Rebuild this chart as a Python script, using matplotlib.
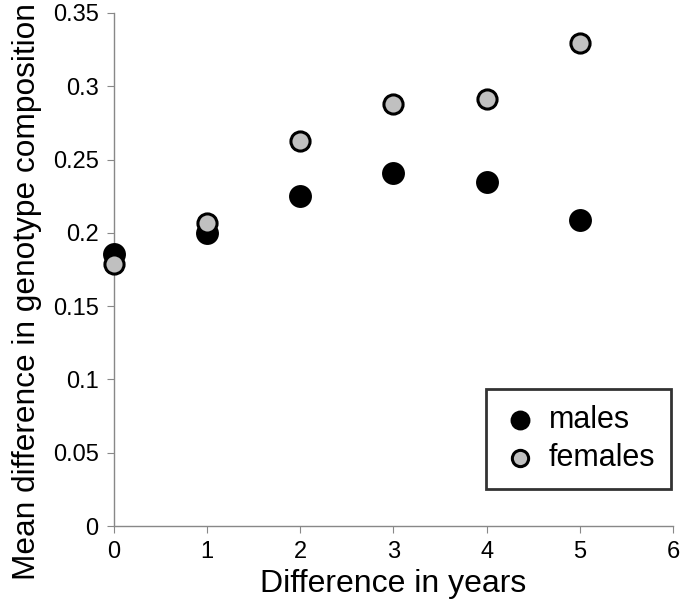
import numpy as np
import matplotlib.pyplot as plt

plt.rcParams['font.family'] = ['Liberation Sans', 'DejaVu Sans']

years = [0, 1, 2, 3, 4, 5]
males = [0.1855, 0.1999, 0.2250, 0.2408, 0.2347, 0.2087]
females = [0.1787, 0.2067, 0.2626, 0.2879, 0.2913, 0.3295]

fig = plt.figure(figsize=(6.85, 6.1), dpi=100)
ax = fig.add_axes([0.1664, 0.1377, 0.816, 0.8410])

ax.scatter(years, males, s=210, c='black', edgecolors='black', linewidths=2,
           label='males', zorder=3, clip_on=False)
ax.scatter(years, females, s=190, c='#c0c0c0', edgecolors='black', linewidths=2.2,
           label='females', zorder=4, clip_on=False)

ax.set_xlim(0, 6)
ax.set_ylim(0, 0.35)
ax.set_xticks(range(7))
ax.set_yticks([0, 0.05, 0.1, 0.15, 0.2, 0.25, 0.3, 0.35])
ax.set_yticklabels(['0', '0.05', '0.1', '0.15', '0.2', '0.25', '0.3', '0.35'])

for side in ['top', 'right']:
    ax.spines[side].set_visible(False)
for side in ['left', 'bottom']:
    ax.spines[side].set_color('#888888')
    ax.spines[side].set_linewidth(1)
ax.tick_params(direction='out', length=5, color='#888888', labelsize=17, pad=6)

ax.set_xlabel('Difference in years', fontsize=23, labelpad=4)
ax.set_ylabel('Mean difference in genotype composition', fontsize=22.8)
ax.yaxis.set_label_coords(-0.128, 0.457)

leg = ax.legend(loc='lower right', bbox_to_anchor=(1.0, 0.07), fontsize=22,
                frameon=True, fancybox=False, edgecolor='black',
                handletextpad=0.35, borderpad=0.52, labelspacing=0.25,
                markerscale=0.85, handlelength=1.2, borderaxespad=0.05)
leg.get_frame().set_linewidth(2)

fig.savefig('out.png', dpi=100)
